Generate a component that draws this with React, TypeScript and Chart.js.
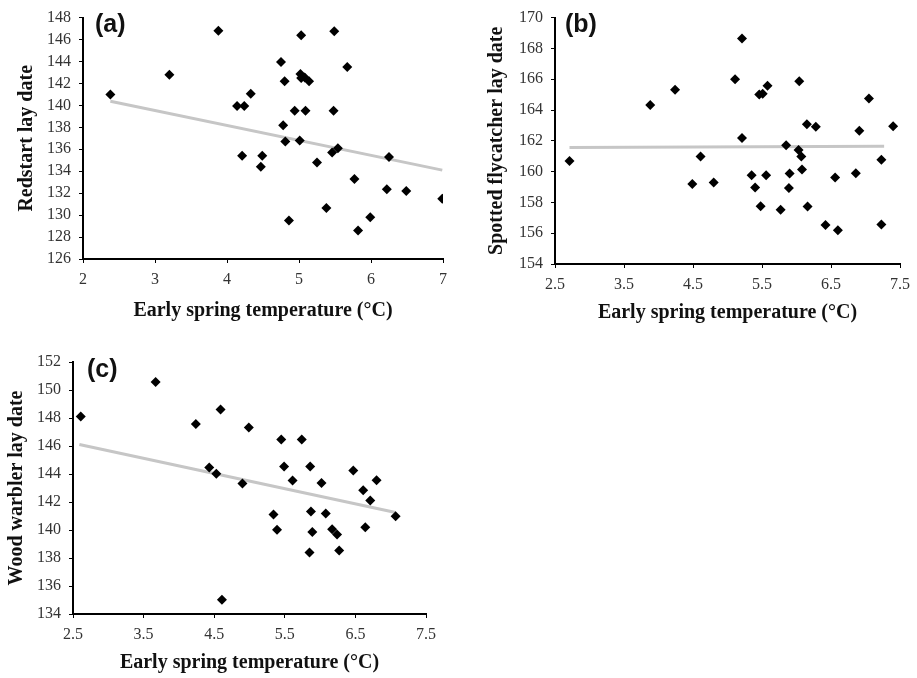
import React, { useEffect, useRef } from "react";
import { Chart, registerables } from "chart.js";

Chart.register(...registerables);

// ---------- text ----------
const X_TITLE = "Early spring temperature (°C)";

// ---------- panel (a): Redstart ----------
const A_LABEL = "(a)";
const A_Y_TITLE = "Redstart lay date";
const A_TEMP = [2.38, 3.2, 3.88, 4.14, 4.24, 4.33, 4.21, 4.49, 4.47, 4.75, 4.8, 4.78, 4.81, 4.86, 4.94, 5.03, 5.02, 5.03, 5.08, 5.14, 5.09, 5.01, 5.25, 5.38, 5.49, 5.48, 5.46, 5.54, 5.67, 5.77, 5.82, 5.99, 6.25, 6.22, 6.49, 6.99];
const A_DATE = [141.0, 142.8, 146.8, 139.95, 139.95, 141.05, 135.4, 135.4, 134.4, 143.95, 142.2, 138.2, 136.7, 129.5, 139.5, 146.4, 142.85, 142.5, 142.55, 142.2, 139.5, 136.8, 134.8, 130.65, 146.75, 139.5, 135.7, 136.1, 143.5, 133.3, 128.6, 129.8, 135.3, 132.35, 132.2, 131.5];
const A_TREND_X = [2.38, 6.99];
const A_TREND_Y = [140.37, 134.1];
const A_X_RANGE = [2, 7];
const A_Y_RANGE = [126, 148];

// ---------- panel (b): Spotted flycatcher ----------
const B_LABEL = "(b)";
const B_Y_TITLE = "Spotted flycatcher lay date";
const B_TEMP = [2.71, 3.88, 4.24, 4.49, 4.61, 4.8, 5.11, 5.21, 5.21, 5.35, 5.4, 5.46, 5.51, 5.48, 5.56, 5.58, 5.77, 5.85, 5.9, 5.89, 6.04, 6.03, 6.07, 6.08, 6.15, 6.16, 6.28, 6.42, 6.56, 6.6, 6.86, 6.91, 7.05, 7.23, 7.23, 7.4];
const B_DATE = [160.69, 164.33, 165.31, 159.19, 160.98, 159.29, 166.0, 168.65, 162.18, 159.76, 158.97, 165.01, 165.05, 157.75, 159.76, 165.57, 157.52, 161.71, 159.87, 158.93, 165.87, 161.41, 160.98, 160.13, 163.08, 157.73, 162.91, 156.53, 159.61, 156.19, 159.89, 162.66, 164.75, 160.77, 156.57, 162.95];
const B_TREND_X = [2.71, 7.27];
const B_TREND_Y = [161.56, 161.65];
const B_X_RANGE = [2.5, 7.5];
const B_Y_RANGE = [154, 170];

// ---------- panel (c): Wood warbler ----------
const C_LABEL = "(c)";
const C_Y_TITLE = "Wood warbler lay date";
const C_TEMP = [2.61, 3.67, 4.24, 4.59, 4.99, 4.43, 4.53, 4.9, 4.61, 5.34, 5.39, 5.45, 5.49, 5.61, 5.74, 5.86, 5.87, 5.89, 5.85, 6.02, 6.08, 6.17, 6.24, 6.27, 6.47, 6.61, 6.64, 6.71, 6.8, 7.07];
const C_DATE = [148.11, 150.57, 147.57, 148.61, 147.33, 144.47, 144.01, 143.32, 135.02, 141.1, 140.01, 146.47, 144.54, 143.54, 146.47, 144.54, 141.32, 139.86, 138.39, 143.35, 141.17, 140.05, 139.67, 138.53, 144.25, 142.84, 140.2, 142.1, 143.56, 140.98];
const C_TREND_X = [2.59, 7.07];
const C_TREND_Y = [146.11, 141.25];
const C_X_RANGE = [2.5, 7.5];
const C_Y_RANGE = [134, 152];

type PanelProps = {
  left: number;
  top: number;
  width: number;
  height: number;
  pad: { left: number; top: number; right: number; bottom: number };
  yAxisWidth: number;
  xAxisHeight: number;
  label: string;
  labelX: number;
  labelY: number;
  yTitle: string;
  xs: number[];
  ys: number[];
  trendX: number[];
  trendY: number[];
  xRange: number[];
  yRange: number[];
};

const SERIF = "'Liberation Serif', 'Times New Roman', serif";
const TICK_FONT = { family: SERIF, size: 16 };
const TITLE_FONT = { family: SERIF, size: 20, weight: "bold" as const };

function Panel(p: PanelProps) {
  const ref = useRef<HTMLCanvasElement | null>(null);
  useEffect(() => {
    if (!ref.current) return;
    const points = p.xs.map((x, i) => ({ x, y: p.ys[i] }));
    const trend = p.trendX.map((x, i) => ({ x, y: p.trendY[i] }));
    const labelPlugin = {
      id: "panelLabel",
      afterDraw(chart: any) {
        const ctx = chart.ctx;
        ctx.save();
        ctx.font = "bold 25px 'Liberation Sans', Arial, sans-serif";
        ctx.fillStyle = "#111";
        ctx.textAlign = "left";
        ctx.textBaseline = "middle";
        ctx.fillText(p.label, p.labelX, p.labelY);
        ctx.restore();
      },
    };
    const axisCommon = {
      type: "linear" as const,
      grid: {
        display: true,
        drawOnChartArea: false,
        drawTicks: true,
        tickLength: 4,
        color: "#000",
        tickColor: "#000",
        lineWidth: 1,
      },
      border: { display: true, color: "#000", width: 2 },
    };
    const chart = new Chart(ref.current, {
      type: "scatter",
      data: {
        datasets: [
          {
            data: points,
            pointStyle: "rectRot",
            pointRadius: 5,
            pointBackgroundColor: "#000",
            pointBorderColor: "#000",
            pointBorderWidth: 0,
            showLine: false,
            order: 1,
          },
          {
            data: trend,
            showLine: true,
            borderColor: "#c6c6c6",
            borderWidth: 3,
            pointRadius: 0,
            order: 2,
          },
        ],
      },
      options: {
        responsive: false,
        animation: false,
        layout: { padding: p.pad },
        plugins: { legend: { display: false }, tooltip: { enabled: false } },
        scales: {
          x: {
            ...axisCommon,
            position: "bottom",
            min: p.xRange[0],
            max: p.xRange[1],
            ticks: { stepSize: 1, color: "#333", font: TICK_FONT, padding: 7, autoSkip: false, maxRotation: 0 },
            title: { display: true, text: X_TITLE, color: "#111", font: TITLE_FONT, padding: 0 },
            afterFit: (s: any) => {
              s.height = p.xAxisHeight;
            },
          },
          y: {
            ...axisCommon,
            position: "left",
            min: p.yRange[0],
            max: p.yRange[1],
            ticks: { stepSize: 2, color: "#333", font: TICK_FONT, padding: 8, autoSkip: false },
            title: { display: true, text: p.yTitle, color: "#111", font: TITLE_FONT, padding: 0 },
            afterFit: (s: any) => {
              s.width = p.yAxisWidth;
            },
          },
        },
      },
      plugins: [labelPlugin],
    } as any);
    return () => chart.destroy();
  }, []);
  return (
    <canvas
      ref={ref}
      width={p.width}
      height={p.height}
      style={{ position: "absolute", left: p.left, top: p.top, width: p.width, height: p.height }}
    />
  );
}

export default function App() {
  return (
    <div style={{ position: "absolute", left: 0, top: 0, width: 917, height: 678, background: "#fff" }}>
      <Panel
        left={0}
        top={0}
        width={458}
        height={330}
        pad={{ left: 15, top: 13, right: 15, bottom: 7 }}
        yAxisWidth={68}
        xAxisHeight={64}
        label={A_LABEL}
        labelX={95}
        labelY={25}
        yTitle={A_Y_TITLE}
        xs={A_TEMP}
        ys={A_DATE}
        trendX={A_TREND_X}
        trendY={A_TREND_Y}
        xRange={A_X_RANGE}
        yRange={A_Y_RANGE}
      />
      <Panel
        left={458}
        top={0}
        width={459}
        height={330}
        pad={{ left: 27, top: 15, right: 16, bottom: 5 }}
        yAxisWidth={70}
        xAxisHeight={61}
        label={B_LABEL}
        labelX={107}
        labelY={25}
        yTitle={B_Y_TITLE}
        xs={B_TEMP}
        ys={B_DATE}
        trendX={B_TREND_X}
        trendY={B_TREND_Y}
        xRange={B_X_RANGE}
        yRange={B_Y_RANGE}
      />
      <Panel
        left={0}
        top={330}
        width={458}
        height={348}
        pad={{ left: 5, top: 32, right: 32, bottom: 3 }}
        yAxisWidth={68}
        xAxisHeight={61}
        label={C_LABEL}
        labelX={87}
        labelY={40}
        yTitle={C_Y_TITLE}
        xs={C_TEMP}
        ys={C_DATE}
        trendX={C_TREND_X}
        trendY={C_TREND_Y}
        xRange={C_X_RANGE}
        yRange={C_Y_RANGE}
      />
    </div>
  );
}
